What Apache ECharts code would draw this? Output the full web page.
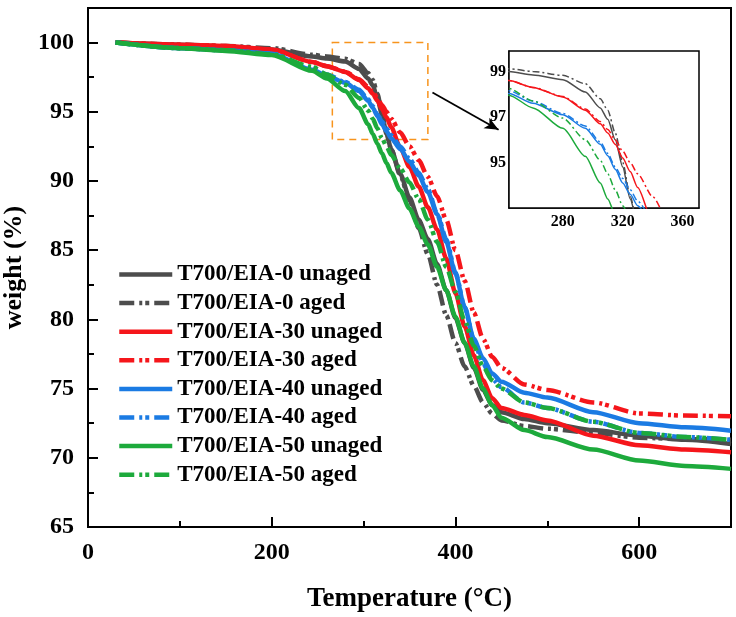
<!DOCTYPE html>
<html>
<head>
<meta charset="utf-8">
<script src="https://cdn.jsdelivr.net/npm/echarts@6/dist/echarts.min.js"></script>
<style>
  html, body { margin: 0; padding: 0; background: #fff; }
  #chart { width: 736px; height: 617px; }
</style>
</head>
<body>
<div id="chart"></div>
<script>
// temperature points (°C)
var temps = [30, 100, 150, 200, 244, 260, 280, 295, 305, 310, 315, 320, 325, 330, 340, 350,
  360, 370, 380, 390, 400, 410, 420, 430, 440, 450, 475, 500, 550, 600, 650, 700];

// weight (%)
var eia0Unaged = [100, 99.85, 99.72, 99.5, 99.0, 98.85, 98.64, 98.1, 97.4, 96.9, 96.0, 94.8, 93.4, 92.3, 90.5, 88.8,
  87.2, 85.8, 84.0, 82.1, 80.1, 78.3, 76.5, 74.9, 73.8, 73.3, 72.8, 72.5, 72.0, 71.6, 71.3, 71.0];
var eia0Aged = [100, 99.85, 99.75, 99.6, 99.12, 99.0, 98.83, 98.46, 97.8, 97.3, 96.3, 95.0, 93.5, 92.3, 90.4, 88.6,
  86.6, 84.7, 82.5, 80.3, 78.3, 76.6, 75.2, 74.0, 73.2, 72.7, 72.3, 72.1, 71.8, 71.45, 71.35, 71.3];
var eia30Unaged = [100, 99.85, 99.75, 99.5, 98.6, 98.3, 97.88, 97.3, 96.7, 96.3, 95.8, 95.2, 94.6, 93.9, 92.4, 91.0,
  89.6, 88.1, 86.5, 84.4, 81.9, 79.5, 77.4, 75.6, 74.3, 73.6, 73.1, 72.7, 71.6, 70.9, 70.6, 70.4];
var eia30Aged = [100, 99.85, 99.75, 99.5, 98.6, 98.3, 97.9, 97.35, 96.8, 96.45, 96.0, 95.5, 95.0, 94.5, 93.5, 92.5,
  91.5, 90.3, 88.9, 87.2, 85.0, 82.8, 80.5, 78.6, 77.3, 76.5, 75.3, 74.9, 74.0, 73.2, 73.05, 73.0];
var eia40Unaged = [100, 99.6, 99.45, 99.2, 98.03, 97.6, 97.1, 96.5, 95.8, 95.3, 94.7, 94.1, 93.6, 93.1, 92.3, 91.4,
  90.4, 89.2, 87.6, 85.6, 83.3, 80.9, 78.6, 77.2, 76.1, 75.5, 74.7, 74.35, 73.3, 72.5, 72.2, 71.96];
var eia40Aged = [100, 99.6, 99.45, 99.2, 98.15, 97.7, 97.15, 96.6, 95.9, 95.4, 94.8, 94.3, 93.8, 93.3, 92.5, 91.6,
  90.6, 89.4, 87.7, 85.8, 83.4, 80.9, 78.5, 76.8, 75.7, 75.1, 74.0, 73.6, 72.6, 71.8, 71.5, 71.3];
var eia50Unaged = [100, 99.6, 99.4, 99.1, 97.96, 97.4, 96.5, 95.27, 94.1, 93.4, 92.7, 92.0, 91.3, 90.6, 89.3, 88.0,
  86.7, 85.4, 83.8, 82.1, 80.2, 78.3, 76.6, 75.0, 73.8, 72.9, 72.0, 71.5, 70.6, 69.8, 69.4, 69.2];
var eia50Aged = [100, 99.6, 99.45, 99.15, 98.25, 97.7, 96.95, 96.0, 95.1, 94.5, 93.8, 93.1, 92.5, 91.9, 90.9, 89.9,
  88.7, 87.2, 85.6, 83.8, 82.0, 79.9, 78.1, 76.6, 75.6, 75.0, 74.0, 73.6, 72.6, 71.8, 71.5, 71.3];

var names = ['T700/EIA-0 unaged', 'T700/EIA-0 aged', 'T700/EIA-30 unaged', 'T700/EIA-30 aged',
  'T700/EIA-40 unaged', 'T700/EIA-40 aged', 'T700/EIA-50 unaged', 'T700/EIA-50 aged'];
var values = [eia0Unaged, eia0Aged, eia30Unaged, eia30Aged, eia40Unaged, eia40Aged, eia50Unaged, eia50Aged];
var colors = ['#4d4d4d', '#4d4d4d', '#f5161b', '#f5161b', '#1b7be3', '#1b7be3', '#1daa3c', '#1daa3c'];
var aged = [false, true, false, true, false, true, false, true];

var insetX = [280, 320, 360];
var insetY = [95, 97, 99];

var serif = 'Liberation Serif';
var chart = echarts.init(document.getElementById('chart'));

var series = [];
for (var i = 0; i < names.length; i++) {
  var pts = temps.map(function (t, k) { return [t, values[i][k]]; });
  var main = {
    name: names[i],
    type: 'line',
    xAxisIndex: 0,
    yAxisIndex: 0,
    data: pts,
    symbol: 'none',
    smooth: 0.25,
    smoothMonotone: 'x',
    lineStyle: { color: colors[i], width: 4.5, type: aged[i] ? [15, 5, 3, 3, 4, 5] : 'solid' },
    itemStyle: { color: colors[i] },
    z: 2
  };
  if (i == 0) {
    // dashed zoom box + arrow
    main.markArea = {
      silent: true,
      itemStyle: { color: 'rgba(0,0,0,0)', borderColor: '#f7941d', borderWidth: 1.5, borderType: [7, 5] },
      data: [[{ coord: [266, 100] }, { coord: [370, 93] }]]
    };
    main.markLine = {
      silent: true,
      symbolSize: [9, 14],
      label: { show: false },
      lineStyle: { color: '#000', width: 1.8, type: 'solid' },
      data: [[{ coord: [375, 96.4], symbol: 'none' }, { coord: [447, 93.7], symbol: 'arrow' }]]
    };
  }
  series.push(main);
  series.push({
    name: names[i],
    type: 'line',
    xAxisIndex: 1,
    yAxisIndex: 1,
    data: pts,
    symbol: 'none',
    smooth: 0.25,
    smoothMonotone: 'x',
    clip: true,
    lineStyle: { color: colors[i], width: 1.5, type: aged[i] ? [7, 3, 2, 3] : 'solid' },
    z: 5
  });
}

var option = {
  backgroundColor: '#fff',
  animation: false,
  legend: {
    data: names,
    orient: 'vertical',
    left: 117,
    top: 263,
    padding: 0,
    itemGap: 5.6,
    itemWidth: 53,
    itemHeight: 14,
    itemStyle: { opacity: 0, borderWidth: 0 },
    lineStyle: { width: 4.5 },
    textStyle: { fontFamily: serif, fontWeight: 'bold', fontSize: 23, color: '#000' }
  },
  grid: [
    { left: 88, top: 8, right: 5, bottom: 90, outerBoundsMode: 'none', show: true, borderColor: '#000', borderWidth: 2, backgroundColor: '#fff' },
    { left: 509, top: 51, width: 190, height: 157, outerBoundsMode: 'none', show: true, borderColor: '#000', borderWidth: 1.5, backgroundColor: '#fff', z: 4 }
  ],
  xAxis: [
    {
      gridIndex: 0,
      type: 'value',
      min: 0, max: 700, interval: 200,
      name: 'Temperature (°C)',
      nameLocation: 'middle',
      nameGap: 59,
      nameTextStyle: { fontFamily: serif, fontWeight: 'bold', fontSize: 27, color: '#000' },
      axisLine: { lineStyle: { color: '#000', width: 2 } },
      axisTick: { inside: true, length: 10, lineStyle: { color: '#000', width: 2 } },
      minorTick: { show: true, splitNumber: 2, length: 6, lineStyle: { color: '#000', width: 2 } },
      splitLine: { show: false },
      axisLabel: {
        margin: 14, fontFamily: serif, fontWeight: 'bold', fontSize: 24, color: '#000',
        formatter: function (v) { return v > 600 ? '' : v; }
      }
    },
    {
      gridIndex: 1,
      type: 'value',
      min: 244, max: 371,
      axisLine: { lineStyle: { color: '#000', width: 1.5 } },
      axisTick: { inside: true, length: 4, customValues: insetX, lineStyle: { color: '#000', width: 1.5 } },
      splitLine: { show: false },
      axisLabel: { margin: 6, customValues: insetX, fontFamily: serif, fontWeight: 'bold', fontSize: 16, color: '#000' }
    }
  ],
  yAxis: [
    {
      gridIndex: 0,
      type: 'value',
      min: 65, max: 102.5, interval: 5,
      name: 'weight (%)',
      nameLocation: 'middle',
      nameGap: 46,
      nameTextStyle: { fontFamily: serif, fontWeight: 'bold', fontSize: 26, color: '#000' },
      axisLine: { lineStyle: { color: '#000', width: 2 } },
      axisTick: { inside: true, length: 10, lineStyle: { color: '#000', width: 2 } },
      minorTick: { show: true, splitNumber: 2, length: 6, lineStyle: { color: '#000', width: 2 } },
      splitLine: { show: false },
      axisLabel: {
        margin: 14, fontFamily: serif, fontWeight: 'bold', fontSize: 24, color: '#000',
        formatter: function (v) { return v > 100 ? '' : v; }
      }
    },
    {
      gridIndex: 1,
      type: 'value',
      min: 93, max: 99.9,
      axisLine: { lineStyle: { color: '#000', width: 1.5 } },
      axisTick: { inside: true, length: 4, customValues: insetY, lineStyle: { color: '#000', width: 1.5 } },
      splitLine: { show: false },
      axisLabel: { margin: 3, customValues: insetY, fontFamily: serif, fontWeight: 'bold', fontSize: 16, color: '#000' }
    }
  ],
  series: series
};

chart.setOption(option);
</script>
</body>
</html>
